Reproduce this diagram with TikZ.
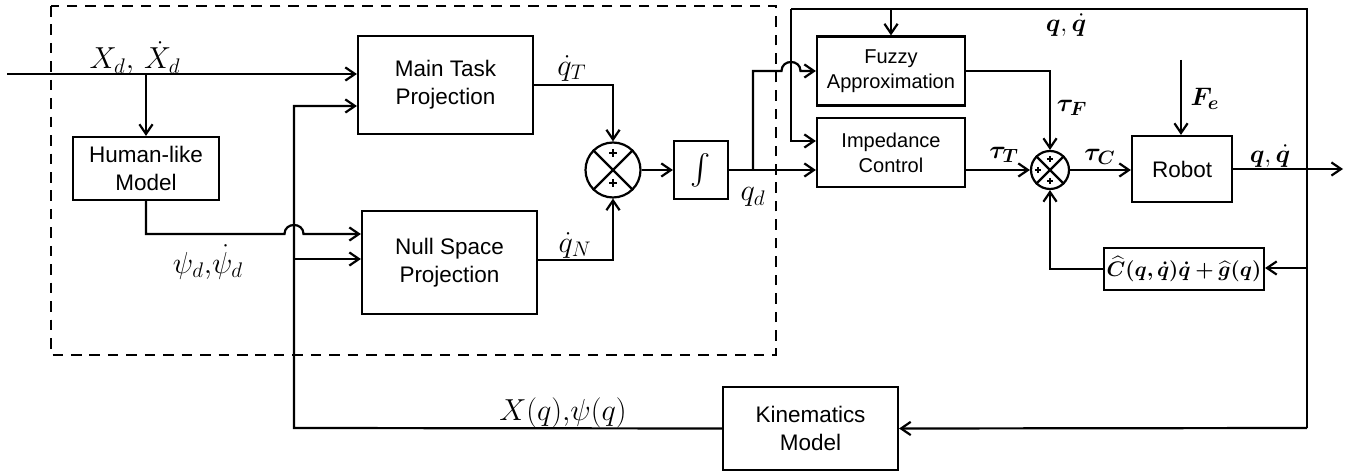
\documentclass[tikz,border=0pt]{standalone}
\usepackage{amsmath}
\usepackage{bm}
\usepackage[no-math]{fontspec}
\setmainfont{Liberation Sans}
\usetikzlibrary{arrows.meta,calc}
\begin{document}
\begin{tikzpicture}[x=0.02cm,y=-0.02cm,line width=1.25pt,
  >={Straight Barb[length=5.5pt,width=7.5pt]},
  blk/.style={draw,inner sep=0pt,align=center,font=\fontsize{12.8}{15.8}\selectfont},
  sblk/.style={blk,font=\fontsize{11.4}{14.2}\selectfont},
  sumc/.style={draw,circle,inner sep=0pt},
  mlab/.style={inner sep=0pt,font=\fontsize{16.5}{19}\selectfont},
  blab/.style={inner sep=0pt,font=\fontsize{13.5}{15}\selectfont},
  tlab/.style={inner sep=0pt,font=\fontsize{15}{17}\selectfont},
  frame/.style={dash pattern=on 6pt off 4.5pt,line width=1.2pt},
  plussign/.pic={\draw[line width=1pt] (-4,0) -- (4,0) (0,-4) -- (0,4);}]
\useasboundingbox (0,0) rectangle (1351,472);

% dashed frame
\draw[frame] (51,6) rectangle (776,355);

% blocks
\node[blk,minimum width=3.5cm,minimum height=1.96cm] (mt) at (445.5,85) {Main Task\\Projection};
\node[blk,minimum width=3.5cm,minimum height=2.06cm] (ns) at (449.5,262.5) {Null Space\\Projection};
\node[blk,minimum width=2.92cm,minimum height=1.26cm] (hm) at (146,168.5) {Human-like\\Model};
\node[sumc,minimum size=1.1cm] (s1) at (613,170) {};
\node[blk,minimum width=1.08cm,minimum height=1.16cm,font=\fontsize{16}{19}\selectfont] (ig) at (701,170) {$\int$};
\node[sblk,minimum width=2.96cm,minimum height=1.38cm] (fz) at (891,71) {Fuzzy\\Approximation};
\node[sblk,minimum width=2.96cm,minimum height=1.38cm] (im) at (891,152.5) {Impedance\\Control};
\node[sumc,minimum size=0.76cm] (s2) at (1050,170) {};
\node[blk,minimum width=2cm,minimum height=1.32cm] (rb) at (1182,169) {Robot};
\node[blk,minimum width=3.2cm,minimum height=0.84cm,font=\fontsize{12.3}{14}\selectfont] (cg) at (1184,269) {$\bm{\widehat{C}(q,\dot{q})\dot{q}+\widehat{g}(q)}$};
\node[blk,minimum width=3.5cm,minimum height=1.66cm] (km) at (810.5,428.5) {Kinematics\\Model};

% summing junction marks
\draw (s1.north east) -- (s1.south west) (s1.north west) -- (s1.south east);
\pic at ($(s1)+(0,-17)$) {plussign};
\pic at ($(s1)+(0,13)$) {plussign};
\draw (s2.north east) -- (s2.south west) (s2.north west) -- (s2.south east);
\pic[scale=0.8] at ($(s2)+(0,-11)$) {plussign};
\pic[scale=0.8] at ($(s2)+(-12,0)$) {plussign};
\pic[scale=0.8] at ($(s2)+(0,11)$) {plussign};

% coordinates
\coordinate (in) at (7,74);
\coordinate (j1) at (146,74);
\coordinate (h1) at (284.5,234);
\coordinate (h2) at (303.5,234);
\coordinate (v1) at (294,106);
\coordinate (v2) at (294,259);
\coordinate (lb) at (294,428);
\coordinate (qb) at (753,170);
\coordinate (f1) at (781.5,71);
\coordinate (f2) at (800.5,71);
\coordinate (tl) at (791,9);
\coordinate (tr) at (1307,9);
\coordinate (br) at (1307,428);
\coordinate (i1) at (791,141);
\coordinate (fe) at (1181,60);
\coordinate (ro) at (1343,169);
\coordinate (cb) at (1307,268);

% connectors
\draw[->] (in) -- (in -| mt.west);
\draw[->] (j1) -- (hm.north);
\draw[->] (hm.south) |- (h1) .. controls (284.5,222) and (303.5,222) .. (h2) -- (h2 -| ns.west);
\draw[->] (km.west) -- (lb) |- (v1 -| mt.west);
\draw[->] (v2) -- (v2 -| ns.west);
\draw[->] (mt.east) -| (s1.north);
\draw[->] (ns.east |- 0,260) -| (s1.south);
\draw[->] (s1.east) -- (ig.west);
\draw[->] (ig.east) -- (ig.east -| im.west);
\draw[->] (qb) |- (f1) .. controls (781.5,59) and (800.5,59) .. (f2) -- (f2 -| fz.west);
\draw (br) -- (tr) -- (tl);
\draw[->] (tl) |- (i1 -| im.west);
\draw[->] (tl -| fz.north) -- (fz.north);
\draw[->] (fz.east) -| (s2.north);
\draw[->] (im.east |- s2.west) -- (s2.west);
\draw[->] (s2.east) -- (s2.east -| rb.west);
\draw[->] (fe) -- (fe |- rb.north);
\draw[->] (rb.east) -- (ro);
\draw[->] (cb) -- (cb -| cg.east);
\draw[->] (cg.west) -| (s2.south);
\draw[->] (br) -- (km.east);

% labels
\node[mlab] (lx) at (135,58) {$X_d,\,\dot{X}_d$};
\node[mlab] (lpsi) at (208,262) {$\psi_d,\!\dot{\psi}_d$};
\node[mlab] (lqt) at (572,68) {$\dot{q}_T$};
\node[mlab] (lqn) at (575,245) {$\dot{q}_N$};
\node[mlab] (lqd) at (753,197) {$q_d$};
\node[mlab] (lxq) at (563,413) {$X(q),\!\psi(q)$};
\node[blab] (lq1) at (1066,25) {$\bm{q},\dot{\bm{q}}$};
\node[tlab] (ltf) at (1072,108) {$\bm{\tau_F}$};
\node[tlab] (ltt) at (1004,155) {$\bm{\tau_T}$};
\node[tlab] (ltc) at (1100,157) {$\bm{\tau_C}$};
\node[tlab] (lfe) at (1205,99) {$\bm{F_e}$};
\node[blab] (lq2) at (1270,156) {$\bm{q},\dot{\bm{q}}$};
\end{tikzpicture}
\end{document}
